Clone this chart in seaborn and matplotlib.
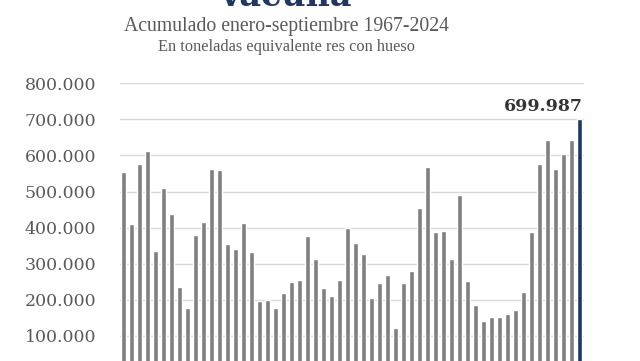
import matplotlib
matplotlib.use("Agg")
import matplotlib.pyplot as plt
import seaborn as sns
import pandas as pd
from matplotlib.ticker import FuncFormatter

years = list(range(1967, 2025))
toneladas = [
    553000, 410000, 575000, 613000, 336000, 510000, 438000, 236000, 176000, 380000,
    415000, 561000, 559000, 355000, 340000, 412000, 332000, 197000, 199000, 176000,
    220000, 250000, 256000, 377000, 312000, 234000, 211000, 256000, 400000, 356000,
    328000, 206000, 246000, 269000, 123000, 246000, 279000, 453000, 567000, 389000,
    390000, 312000, 489000, 253000, 186000, 141000, 153000, 153000, 160000, 172000,
    221000, 388000, 576000, 643000, 562000, 604000, 643000, 699987,
]
y_ticks = [100000, 200000, 300000, 400000, 500000, 600000, 700000, 800000]

subtitle1 = "Acumulado enero-septiembre 1967-2024"
subtitle2 = "En toneladas equivalente res con hueso"
title = "vacuna"
last_label = "699.987"

gray = "#808080"
navy = "#1f3864"

df = pd.DataFrame({"anio": [str(y) for y in years], "t": toneladas})
palette = {str(y): (navy if y == years[-1] else gray) for y in years}

sns.set_theme(style="white")
fig = plt.figure(figsize=(6.4, 3.61), dpi=100)
fig.patch.set_facecolor("white")
ax = fig.add_axes([0.187, -0.0305, 0.725, 0.8])

sns.barplot(data=df, x="anio", y="t", hue="anio", palette=palette,
            legend=False, width=0.55, ax=ax, saturation=1)

ax.set_ylim(0, 800000)
ax.set_yticks(y_ticks)
ax.yaxis.set_major_formatter(FuncFormatter(lambda v, p: f"{int(v):,}".replace(",", ".")))
ax.grid(axis="y", color="#d9d9d9", linewidth=1)
ax.set_axisbelow(True)
for s in ax.spines.values():
    s.set_visible(False)
ax.set_xticks([])
ax.set_xlabel("")
ax.set_ylabel("")
ax.tick_params(axis="y", length=0, pad=17, labelsize=12.5, labelcolor="#595959")
for lab in ax.get_yticklabels():
    lab.set_fontfamily("DejaVu Serif")

ax.text(len(years) - 1 + 0.45, toneladas[-1] + 12000, last_label, ha="right", va="bottom",
        fontsize=12.5, fontweight="bold", color="#333333", family="DejaVu Serif")

fig.text(0.448, 0.982, title, ha="center", va="baseline", fontsize=24,
         fontweight="bold", color=navy, family="DejaVu Serif")
fig.text(0.447, 0.927, subtitle1, ha="center", va="center", fontsize=14.2,
         color="#595959", family="Liberation Serif")
fig.text(0.447, 0.871, subtitle2, ha="center", va="center", fontsize=11.8,
         color="#595959", family="Liberation Serif")

fig.savefig("out.png", dpi=100, facecolor="white")
